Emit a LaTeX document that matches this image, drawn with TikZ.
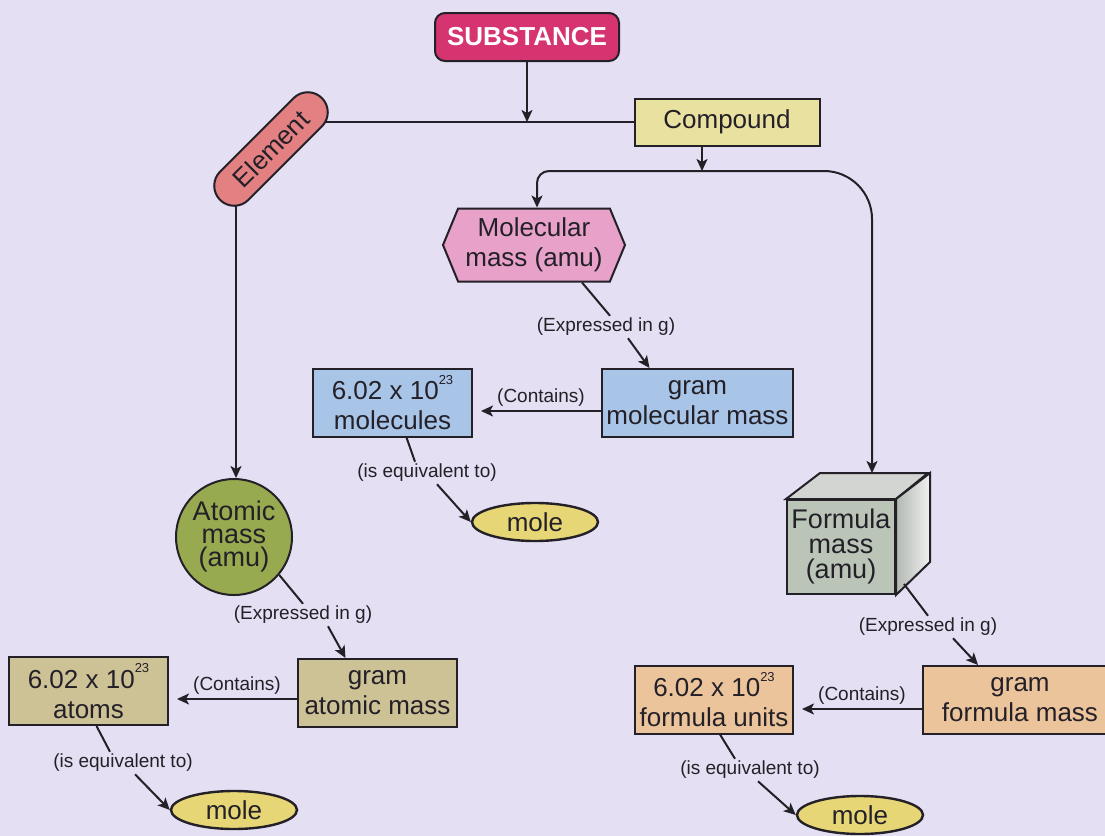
\documentclass[tikz,border=0pt]{standalone}
\usepackage{fontspec}
\setmainfont{Liberation Sans}
\usetikzlibrary{arrows.meta,shapes.geometric,shapes.symbols}

\definecolor{paper}{RGB}{228,223,242}
\definecolor{ink}{RGB}{35,32,40}
\definecolor{substancecol}{RGB}{214,52,112}
\definecolor{compoundcol}{RGB}{233,225,160}
\definecolor{elementcol}{RGB}{226,128,130}
\definecolor{molcol}{RGB}{232,162,202}
\definecolor{bluebox}{RGB}{168,196,230}
\definecolor{molecol}{RGB}{230,214,118}
\definecolor{atomcol}{RGB}{152,170,80}
\definecolor{tanbox}{RGB}{205,193,150}
\definecolor{peachbox}{RGB}{236,196,156}
\definecolor{cubefront}{RGB}{186,197,184}
\definecolor{cubetop}{RGB}{210,213,210}
\definecolor{cubeside}{RGB}{178,184,178}

\newcommand{\expo}[1]{\raisebox{0.6em}{\fontsize{6.5}{7}\selectfont #1}}

\tikzstyle{line} = [draw, line width=1pt, ink]
\tikzstyle{arrow} = [line, -{Stealth[length=6pt,width=5.5pt,inset=1.5pt]}]
\tikzstyle{box} = [draw, line width=1pt, ink, text=ink, align=center, inner sep=0pt, font=\fontsize{13}{15}\selectfont]
\tikzstyle{note} = [inner sep=1pt, text=ink, font=\fontsize{9.5}{11}\selectfont]
\tikzstyle{mole} = [box, ellipse, line width=1.2pt, fill=molecol, minimum width=63pt, minimum height=19pt]

\begin{document}
\begin{tikzpicture}[x=0.5pt,y=-0.5pt]
  \fill[paper] (0,0) rectangle (1105,836);
  \useasboundingbox (0,0) rectangle (1105,836);

  \node[box, rounded corners=5pt, fill=substancecol, text=white, font=\fontsize{13}{15}\selectfont\bfseries, minimum width=92pt, minimum height=24pt] (substance) at (527,37) {SUBSTANCE};
  \node[box, fill=compoundcol, minimum width=92.5pt, minimum height=23.5pt] (compound) at (727,122) {Compound};
  \node[box, signal, signal to=west and east, signal pointer angle=135, fill=molcol, minimum width=91pt, minimum height=36.5pt] (molmass) at (534,245) {Molecular\\mass (amu)};
  \node[box, circle, fill=atomcol, minimum size=58pt, font=\fontsize{13.5}{11.5}\selectfont] (atom) at (234,537) {Atomic\\mass\\(amu)};
  \node[box, fill=cubefront, minimum width=54pt, minimum height=47pt, font=\fontsize{13.5}{12.5}\selectfont] (cube) at (841,547) {Formula\\mass\\(amu)};
  \filldraw[line, fill=cubetop] (cube.north west) -- ++(34,-26) -- ++(108,0) -- (cube.north east) -- cycle;
  \path[line, left color=cubeside, right color=gray!12] (cube.north east) -- ++(34,-26) -- ++(0,89) -- (cube.south east) -- cycle;

  \foreach \pos/\name/\boxw/\fillc/\txt in {
      {(697.5,403)/gmm/95.5/bluebox/{gram\\molecular mass}},
      {(392.5,402.5)/nmol/79.5/bluebox/{6.02 x 10\expo{23}\\molecules}},
      {(377.5,693)/gam/79.5/tanbox/{gram\\atomic mass}},
      {(88.5,691)/natom/79.5/tanbox/{6.02 x 10\expo{23}\\atoms}},
      {(1020,700)/gfm/97/peachbox/{gram\\formula mass}},
      {(714,699.5)/nfu/79/peachbox/{6.02 x 10\expo{23}\\formula units}}} {
      \node[box, fill=\fillc, minimum width=\boxw pt, minimum height=34pt] (\name) at \pos {\txt};
  }
  \foreach \pos/\name in {{(535,522)/mole1}, {(234,810)/mole2}, {(860,815)/mole3}} {
      \node[mole] (\name) at \pos {mole};
  }
  \foreach \pos/\name/\txt in {{(606,327)/exp1/(Expressed in g)}, {(427,473)/eq1/(is equivalent to)},
      {(303,615)/exp2/(Expressed in g)}, {(123,763)/eq2/(is equivalent to)},
      {(928,627)/exp3/(Expressed in g)}, {(750,770)/eq3/(is equivalent to)}} {
      \node[note] (\name) at \pos {\txt};
  }

  \coordinate (elemright) at (300,122);
  \coordinate (elembottom) at (236,195);
  \coordinate (fork) at (702,171);
  \draw[line] (elemright) -- (compound.west);
  \draw[arrow] (elembottom) -- (elembottom |- atom.north);
  \node[box, rounded corners=10pt, rotate=45, fill=elementcol, minimum width=72pt, minimum height=20pt] (element) at (271,149) {Element};

  \draw[arrow] (substance.south) -- (substance |- compound.west);
  \draw[arrow] (compound.south -| fork) -- (fork);
  \draw[arrow, rounded corners=6pt] (fork) -| ([shift={(3,0)}]molmass.north);
  \draw[arrow, rounded corners=24pt] (fork) -| ([shift={(31,-26)}]cube.north);

  \foreach \src/\dst/\dy/\dz in {gmm/nmol/8/8.5, gam/natom/6/8, gfm/nfu/9/9.5} {
      \draw[arrow] ([shift={(0,\dy)}]\src.west) -- node[note, above=1pt] {(Contains)} ([shift={(8,\dz)}]\dst.east);
  }

  \draw[line] ([shift={(48,0)}]molmass.south) -- ([shift={(4,0)}]exp1.north);
  \draw[arrow] ([shift={(22,0)}]exp1.south) -- ([shift={(-48,0)}]gmm.north);
  \draw[line] ([shift={(14,0)}]nmol.south) -- ([shift={(-12,0)}]eq1.north);
  \draw[arrow] ([shift={(10,0)}]eq1.south) -- (mole1.west);
  \draw[line] (atom.-40) -- (exp2.north);
  \draw[arrow] ([shift={(25,0)}]exp2.south) -- ([shift={(-32,0)}]gam.north);
  \draw[line] ([shift={(8,0)}]natom.south) -- ([shift={(-13,0)}]eq2.north);
  \draw[arrow] ([shift={(12,0)}]eq2.south) -- (mole2.west);
  \draw[line] ([shift={(8,-11)}]cube.south east) -- (exp3.north);
  \draw[arrow] ([shift={(25,0)}]exp3.south) -- ([shift={(-42,0)}]gfm.north);
  \draw[line] ([shift={(6,0)}]nfu.south) -- ([shift={(-15,0)}]eq3.north);
  \draw[arrow] ([shift={(8,0)}]eq3.south) -- (mole3.west);
\end{tikzpicture}
\end{document}
